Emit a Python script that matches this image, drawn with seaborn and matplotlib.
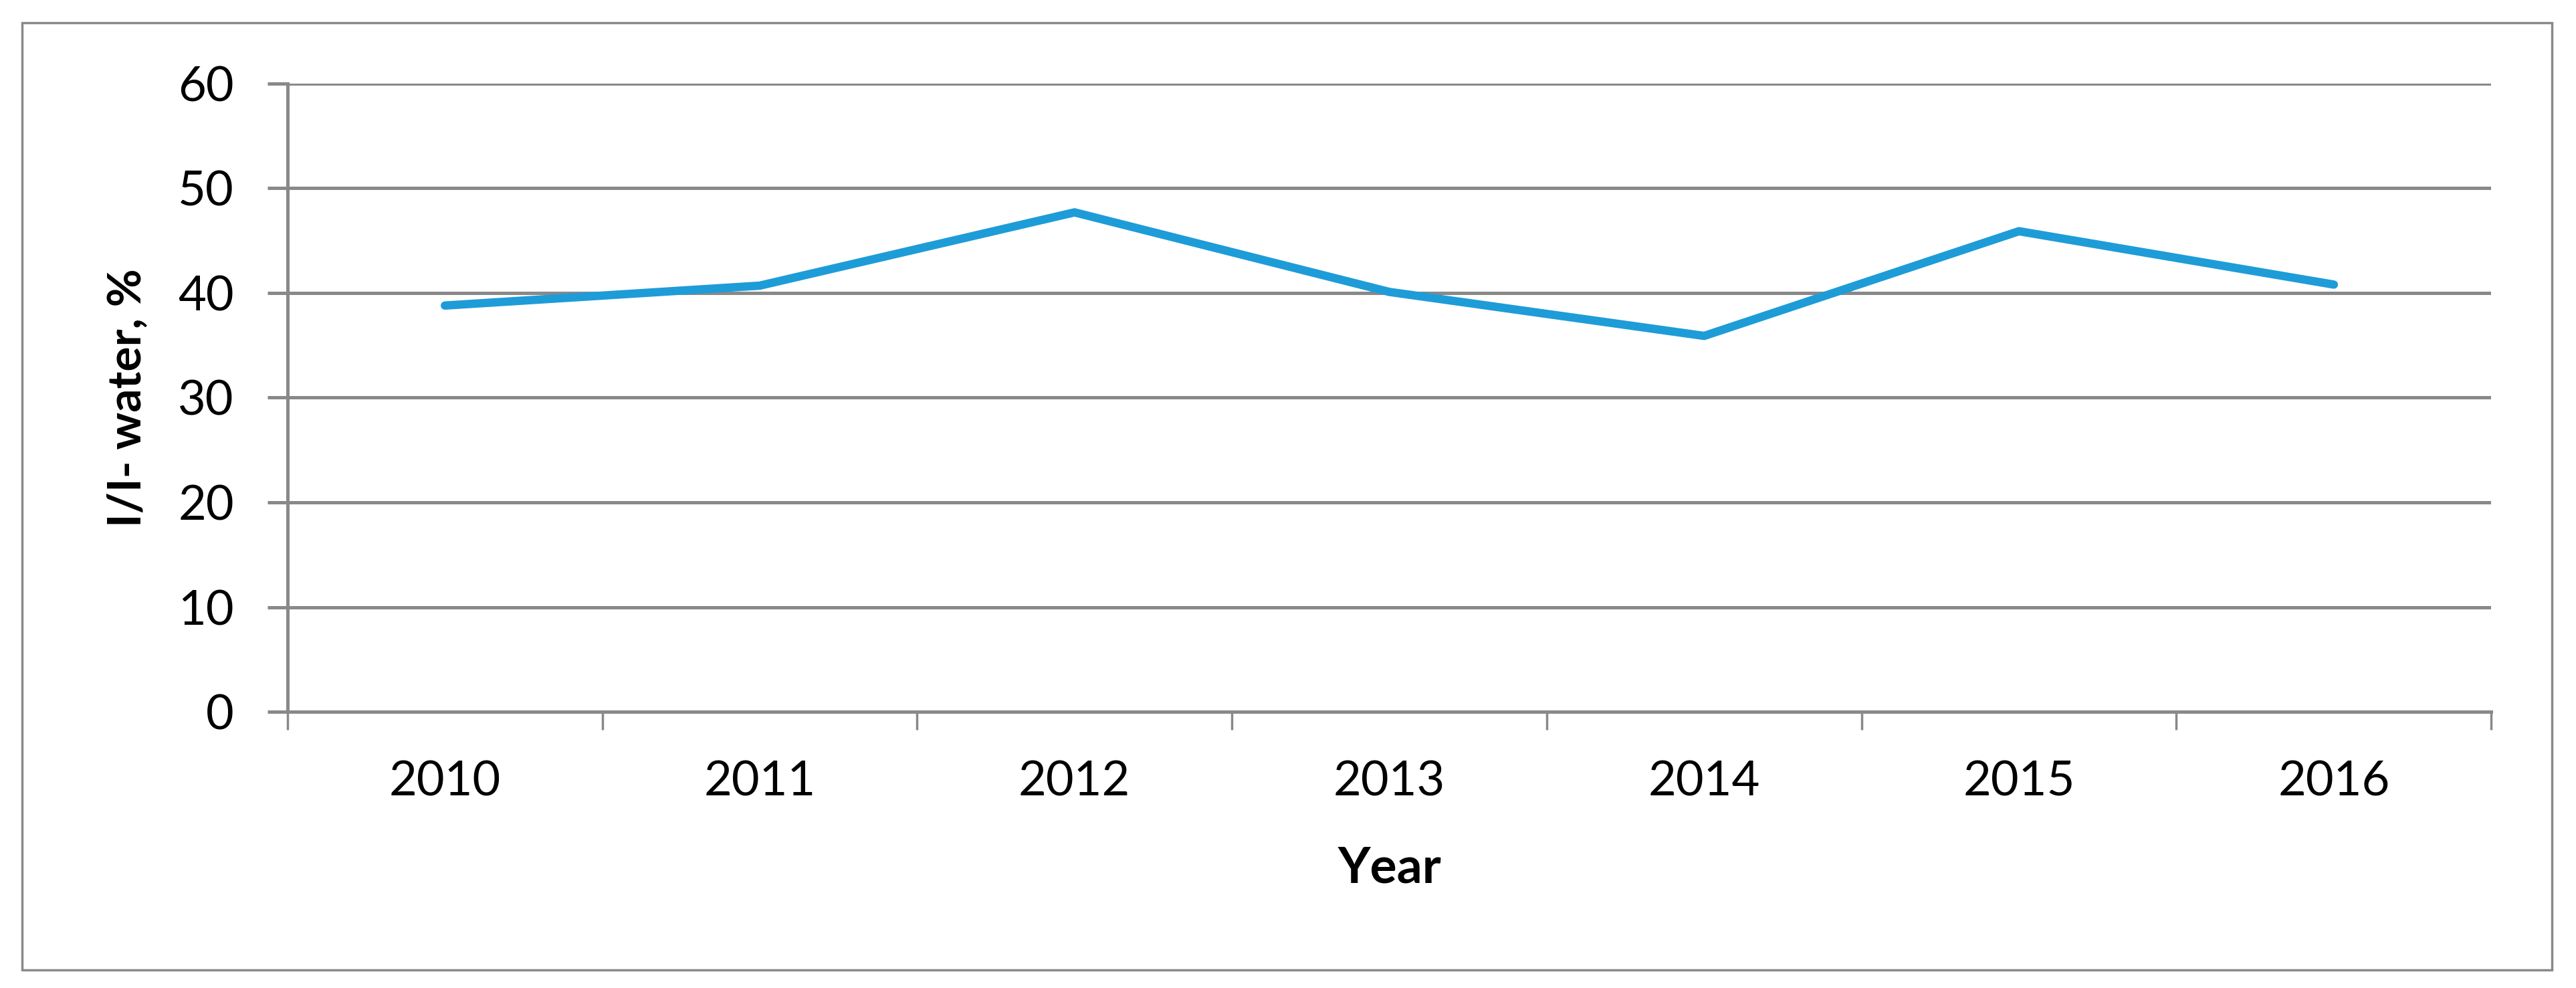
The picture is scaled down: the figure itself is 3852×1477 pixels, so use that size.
import matplotlib
matplotlib.use("Agg")
import matplotlib.pyplot as plt
import seaborn as sns
import pandas as pd
from matplotlib.patches import Rectangle
from matplotlib.ticker import MultipleLocator, FixedLocator

# Data
years = [2010, 2011, 2012, 2013, 2014, 2015, 2016]
ii_water = [38.8, 40.7, 47.7, 40.1, 35.9, 45.9, 40.8]

df = pd.DataFrame({"Year": years, "I/I- water, %": ii_water})

sns.set_style("white")
plt.rcParams["font.family"] = ["Lato", "DejaVu Sans"]
plt.rcParams["text.color"] = "black"
plt.rcParams["axes.labelcolor"] = "black"
plt.rcParams["xtick.color"] = "black"
plt.rcParams["ytick.color"] = "black"

grey = "#898989"
fig = plt.figure(figsize=(38.52, 14.77), dpi=100)
ax = fig.add_axes([0.1116, 0.2796, 0.8555, 0.6358])

sns.lineplot(data=df, x="Year", y="I/I- water, %", ax=ax,
             color="#1E9CD8", linewidth=9, solid_capstyle="round")

ax.set_ylim(0, 60)
ax.set_xlim(years[0] - 0.5, years[-1] + 0.5)
ax.yaxis.set_major_locator(MultipleLocator(10))
ax.set_xticks(years)
ax.xaxis.set_minor_locator(FixedLocator([y - 0.5 for y in years] + [years[-1] + 0.5]))

ax.grid(axis="y", color=grey, linewidth=3.6)
ax.set_axisbelow(True)
for s in ["top", "right"]:
    ax.spines[s].set_visible(False)
for s in ["left", "bottom"]:
    ax.spines[s].set_color(grey)
    ax.spines[s].set_linewidth(3.6)

ax.tick_params(axis="y", which="major", length=21.6, width=3.6, color=grey,
               labelcolor="black", labelsize=52, pad=36, left=True)
ax.tick_params(axis="x", which="major", length=0, labelcolor="black",
               labelsize=52, pad=52)
ax.tick_params(axis="x", which="minor", length=19.5, width=2.5, color=grey,
               bottom=True)

ax.set_xlabel("Year", fontsize=54, fontweight="bold", labelpad=45, color="black")
ax.set_ylabel("I/I- water, %", fontsize=50, fontweight="bold", labelpad=32,
              color="black")

# outer chart frame
fig.patches.append(Rectangle((33 / 3852, 1 - 1450 / 1477), (3816 - 33) / 3852,
                             (1450 - 34) / 1477, transform=fig.transFigure,
                             fill=False, edgecolor=grey, linewidth=2.5))

plt.savefig("out.png", dpi=100)
